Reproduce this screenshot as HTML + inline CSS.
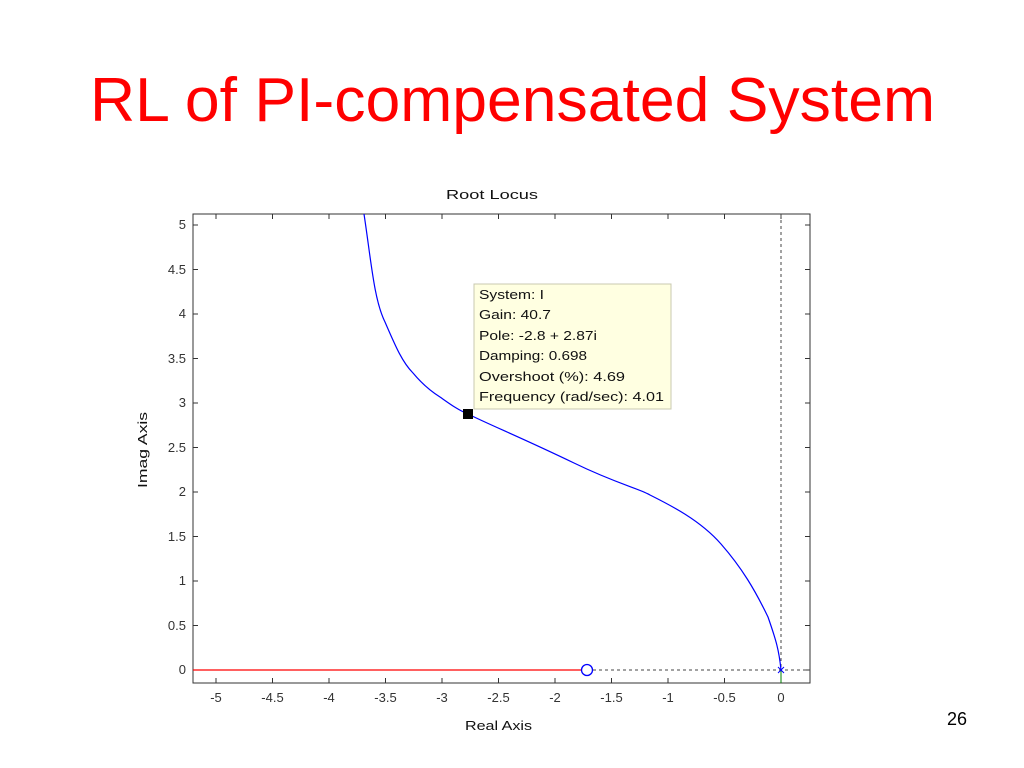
<!DOCTYPE html>
<html><head><meta charset="utf-8"><style>
body{margin:0;background:#fff;}
svg{display:block;font-family:"Liberation Sans",Arial,sans-serif;}
</style></head><body>
<svg width="1024" height="768" xmlns="http://www.w3.org/2000/svg">
<text x="90" y="121" font-size="62" fill="#ff0000" textLength="845" lengthAdjust="spacingAndGlyphs">RL of PI-compensated System</text>
<text x="957" y="725" text-anchor="middle" font-size="18" fill="#000">26</text>
<text x="446" y="199" font-size="13" fill="#111" textLength="92" lengthAdjust="spacingAndGlyphs">Root Locus</text>
<text x="465" y="730" font-size="13" fill="#111" textLength="67" lengthAdjust="spacingAndGlyphs">Real Axis</text>
<text transform="translate(147,488) rotate(-90)" font-size="13" fill="#111" textLength="76" lengthAdjust="spacingAndGlyphs">Imag Axis</text>
<rect x="193" y="214" width="617" height="469" fill="#fff" stroke="#333" stroke-width="1"/>
<g stroke="#333" stroke-width="1">
<path d="M216 214v5M216 683v-5M272.5 214v5M272.5 683v-5M329 214v5M329 683v-5M385.5 214v5M385.5 683v-5M442 214v5M442 683v-5M498.5 214v5M498.5 683v-5M555 214v5M555 683v-5M611.5 214v5M611.5 683v-5M668 214v5M668 683v-5M724.5 214v5M724.5 683v-5M781 214v5M781 683v-5"/>
<path d="M193 225h5M810 225h-5M193 269.5h5M810 269.5h-5M193 314h5M810 314h-5M193 358.5h5M810 358.5h-5M193 403h5M810 403h-5M193 447.5h5M810 447.5h-5M193 492h5M810 492h-5M193 536.5h5M810 536.5h-5M193 581h5M810 581h-5M193 625.5h5M810 625.5h-5M193 670h5M810 670h-5"/>
</g>
<g font-size="13" fill="#333" text-anchor="middle">
<text x="216" y="702">-5</text><text x="272.5" y="702">-4.5</text><text x="329" y="702">-4</text><text x="385.5" y="702">-3.5</text><text x="442" y="702">-3</text><text x="498.5" y="702">-2.5</text><text x="555" y="702">-2</text><text x="611.5" y="702">-1.5</text><text x="668" y="702">-1</text><text x="724.5" y="702">-0.5</text><text x="781" y="702">0</text>
</g>
<g font-size="13" fill="#333" text-anchor="end">
<text x="186" y="229">5</text><text x="186" y="274">4.5</text><text x="186" y="318">4</text><text x="186" y="363">3.5</text><text x="186" y="407">3</text><text x="186" y="452">2.5</text><text x="186" y="496">2</text><text x="186" y="541">1.5</text><text x="186" y="585">1</text><text x="186" y="630">0.5</text><text x="186" y="674">0</text>
</g>
<path d="M781 214V683" stroke="#444" stroke-dasharray="3,3"/>
<path d="M593 670H810" stroke="#444" stroke-dasharray="3,3"/>
<path d="M193 670H582" stroke="#ff0000" stroke-width="1.3"/>
<circle cx="587" cy="670" r="5.5" fill="none" stroke="#0000ff" stroke-width="1.3"/>
<path d="M781 670v13" stroke="#008000"/>
<path d="M778 667l6 6M784 667l-6 6" stroke="#0000ff"/>
<path d="M364 214 C371 260,374 300,385 322 C395 345,402 362,413 373 C423 385,432 392,440 397 C450 404,458 410,468 414 C490 425,520 437,574 463 C615 483,640 489,650 495 C670 505,700 520,721 544 C742 568,755 590,768 617 C776 640,779 650,781 670" fill="none" stroke="#0000ff" stroke-width="1.2"/>
<rect x="463" y="409" width="10" height="10" fill="#000"/>
<rect x="474" y="284" width="197" height="125" fill="#ffffe1" stroke="#c8c8b0"/>
<g font-size="13" fill="#111">
<text x="479" y="299" textLength="65" lengthAdjust="spacingAndGlyphs">System: I</text>
<text x="479" y="319" textLength="72" lengthAdjust="spacingAndGlyphs">Gain: 40.7</text>
<text x="479" y="340" textLength="118" lengthAdjust="spacingAndGlyphs">Pole: -2.8 + 2.87i</text>
<text x="479" y="360" textLength="108" lengthAdjust="spacingAndGlyphs">Damping: 0.698</text>
<text x="479" y="381" textLength="146" lengthAdjust="spacingAndGlyphs">Overshoot (%): 4.69</text>
<text x="479" y="401" textLength="185" lengthAdjust="spacingAndGlyphs">Frequency (rad/sec): 4.01</text>
</g>
</svg>
</body></html>
